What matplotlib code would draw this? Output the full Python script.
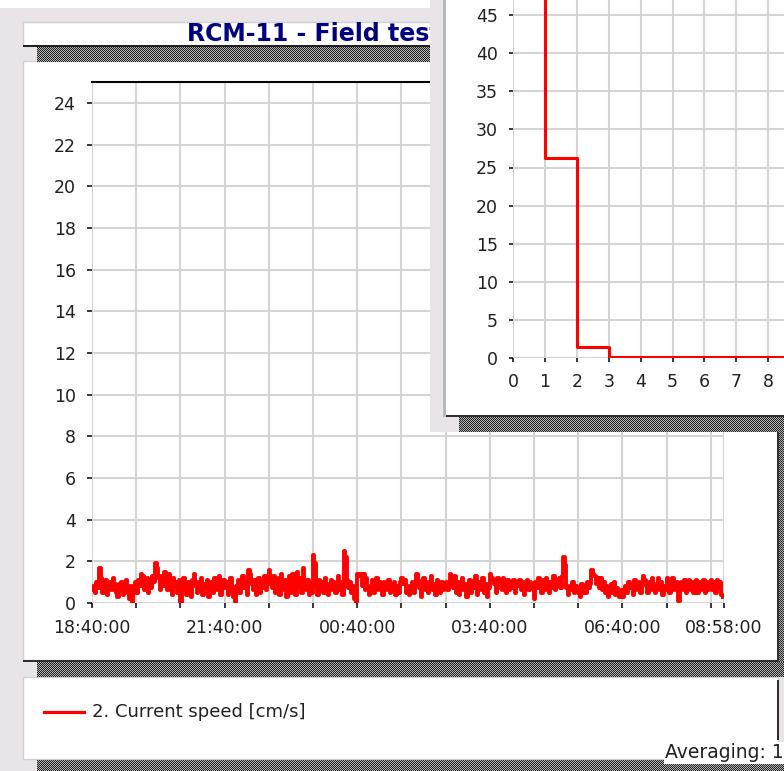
import numpy as np
import pandas as pd
import matplotlib
matplotlib.use("Agg")
import matplotlib.pyplot as plt
import matplotlib.dates as mdates
from matplotlib.patches import Rectangle
from matplotlib.lines import Line2D

plt.rcParams['font.family'] = ['DejaVu Sans']

W, H = 784, 771

# current speed [cm/s], one value every 2 minutes from 18:40 (one row = one hour)
speed = [
    0.6, 0.8, 0.5, 1.0, 0.7, 1.7, 1.2, 0.5, 0.9, 1.1, 0.4, 0.8, 1.0, 0.6, 1.2, 0.9, 0.5, 0.3, 0.9, 0.6, 1.0, 0.4, 0.7, 1.1, 0.5, 0.2, 0.8, 0.0, 0.6, 1.0,
    0.5, 1.1, 0.8, 1.4, 1.3, 0.6, 0.9, 1.2, 0.5, 1.1, 0.7, 1.3, 1.0, 1.9, 1.7, 1.2, 0.6, 1.3, 0.8, 1.5, 1.0, 0.6, 1.4, 0.9, 0.4, 1.2, 0.8, 1.0, 0.5, 1.1,
    0.0, 0.9, 1.2, 0.6, 0.4, 1.0, 0.7, 0.3, 1.1, 1.4, 0.8, 0.5, 1.0, 0.6, 1.2, 0.4, 0.9, 0.7, 1.1, 0.3, 0.8, 1.0, 0.5, 1.2, 0.6, 0.9, 1.3, 0.4, 0.8, 1.1,
    0.7, 1.0, 0.4, 0.9, 1.2, 0.6, 0.3, 0.0, 0.8, 1.1, 0.5, 0.9, 1.3, 0.7, 1.0, 0.4, 1.6, 1.4, 0.9, 0.6, 1.1, 0.4, 0.8, 1.2, 0.5, 1.0, 0.7, 1.3, 0.6, 0.9,
    1.6, 1.1, 0.7, 1.3, 0.5, 0.9, 1.2, 0.4, 1.4, 0.8, 0.6, 1.1, 0.3, 0.9, 1.3, 0.5, 1.4, 1.0, 0.4, 1.5, 0.7, 1.2, 0.5, 1.7, 1.0, 0.6, 1.1, 0.4, 0.9, 0.5,
    2.3, 1.9, 0.8, 0.4, 1.1, 0.6, 1.0, 0.5, 1.2, 0.7, 0.4, 0.9, 1.1, 0.6, 1.0, 0.5, 0.8, 1.3, 0.6, 1.0, 0.4, 2.5, 2.2, 1.1, 0.7, 1.0, 0.5, 0.8, 0.2, 0.0,
    1.4, 1.3, 1.4, 0.8, 1.4, 0.6, 1.2, 0.8, 0.4, 0.7, 1.1, 0.5, 0.9, 1.2, 0.6, 1.0, 0.7, 0.4, 1.0, 0.6, 0.8, 1.1, 0.5, 0.9, 0.6, 1.0, 0.4, 0.8, 0.5, 1.0,
    1.2, 0.9, 1.1, 0.5, 0.8, 0.4, 0.7, 1.0, 0.5, 0.9, 1.4, 1.1, 0.7, 0.3, 0.9, 1.2, 0.6, 1.0, 0.5, 0.8, 1.3, 0.6, 0.9, 0.4, 1.1, 0.7, 0.5, 1.0, 0.6, 0.8,
    1.0, 0.6, 0.9, 1.4, 1.2, 0.7, 1.3, 0.5, 1.0, 0.4, 0.8, 1.2, 0.6, 0.9, 0.3, 0.7, 1.1, 0.5, 1.0, 0.7, 1.3, 0.4, 0.8, 1.0, 0.6, 1.2, 0.5, 0.9, 0.3, 0.7,
    1.4, 1.2, 1.1, 0.9, 0.5, 1.2, 0.7, 1.1, 0.6, 1.2, 0.9, 0.5, 1.1, 0.6, 1.0, 0.7, 1.1, 0.5, 1.0, 0.8, 1.1, 0.6, 1.0, 0.4, 0.9, 1.1, 0.6, 1.0, 0.7, 0.9,
    0.2, 1.0, 0.7, 1.2, 0.8, 0.5, 1.1, 0.6, 1.2, 0.9, 0.5, 1.0, 0.7, 1.3, 0.6, 1.1, 0.8, 1.2, 0.7, 1.3, 2.2, 1.8, 0.7, 0.4, 0.8, 0.6, 1.0, 0.5, 0.8, 0.6,
    0.5, 0.3, 0.9, 0.5, 0.8, 0.5, 1.0, 0.7, 0.9, 1.6, 1.4, 1.3, 0.9, 1.2, 0.7, 1.2, 0.6, 1.0, 0.5, 0.8, 0.3, 0.6, 0.9, 0.5, 1.0, 0.4, 0.7, 0.5, 0.3, 0.6,
    0.3, 0.6, 0.8, 0.5, 1.0, 0.7, 0.9, 0.4, 1.1, 0.6, 0.8, 1.0, 0.5, 0.9, 1.3, 1.1, 0.8, 0.5, 1.0, 0.6, 1.2, 0.7, 0.5, 0.9, 1.2, 0.6, 1.0, 0.4, 0.8, 0.6,
    1.2, 0.8, 0.5, 1.0, 1.2, 0.6, 0.9, 1.0, 0.1, 0.7, 1.0, 0.6, 1.1, 0.5, 0.9, 1.1, 0.6, 1.0, 0.5, 0.8, 1.1, 0.5, 1.0, 0.6, 0.9, 1.1, 0.5, 1.0, 0.6, 0.9,
    1.1, 0.6, 1.0, 0.5, 1.1, 0.7, 1.0, 0.4, 0.3,
]
start_time = "2000-01-01 18:40"
end_time = "2000-01-02 08:58"
shown_labels = ["18:40:00", "21:40:00", "00:40:00", "03:40:00", "06:40:00", "08:58:00"]
y_ticks = list(range(0, 25, 2))

# distribution window: percent of samples per 1 cm/s class
hist_edges = [0, 1, 2, 3, 4, 5, 6, 7, 8, 9, 10, 11]
hist_pct = [72.3, 26.2, 1.4, 0.1, 0.1, 0.1, 0.1, 0.1, 0.1, 0.1, 0.1, 0.1]
hist_xlabels = ["0", "1", "2", "3", "4", "5", "6", "7", "8", "", ""]

title = "RCM-11 - Field test"
legend_label = "2. Current speed [cm/s]"

GRAY = '#e8e4e8'
GRID = '#d4d4d4'


def box(x, y, w, h, zorder, **kw):
    r = Rectangle((x / W, 1 - (y + h) / H), w / W, h / H,
                  transform=fig.transFigure, zorder=zorder, **kw)
    fig.add_artist(r)


def shadow(x, y, w, h, zorder):
    # dithered shadow like the old windows UI
    i, j = np.indices((h, w))
    arr = np.where(((i + j) % 2 == 0)[..., None], 0.12, 0.72) * np.ones((h, w, 3))
    fig.figimage(arr, xo=x, yo=H - y - h, origin='upper', zorder=zorder)


fig = plt.figure(figsize=(W / 100, H / 100), dpi=100)

# background and panels
box(0, 0, W, H, 0, facecolor=GRAY, lw=0)
box(0, 0, 430, 8, 0.1, facecolor='white', lw=0)
box(23, 22, 420, 24, 0.2, facecolor='white', edgecolor='#d0d0d0', lw=1)
box(23, 45, 420, 2, 0.3, facecolor='#202020', lw=0)
shadow(37, 47, 400, 15, 0.3)
box(23, 61, 755, 599, 0.2, facecolor='white', edgecolor='#d0d0d0', lw=1)
box(777, 61, 2, 601, 0.3, facecolor='#303030', lw=0)
box(23, 660, 756, 2, 0.3, facecolor='#303030', lw=0)
shadow(37, 662, 747, 15, 0.3)
shadow(779, 75, 5, 587, 0.3)
box(23, 677, 755, 82, 0.2, facecolor='white', edgecolor='#d0d0d0', lw=1)
box(777, 680, 2, 60, 0.3, facecolor='#303030', lw=0)
shadow(37, 760, 747, 11, 0.3)

fig.text(187 / W, 1 - 34 / H, title, fontweight='bold',
         fontsize=17, color='#000080', va='center', ha='left', zorder=1)

fig.add_artist(Line2D([44 / W, 84 / W], [1 - 712 / H] * 2, color='red', lw=2.3,
                      transform=fig.transFigure, zorder=3))
fig.text(92 / W, 1 - 712 / H, legend_label, fontsize=13, color='#202020',
         va='center', ha='left', zorder=3)
fig.text(665 / W, 1 - 753 / H, "Averaging: 1", fontsize=13.5, color='#202020',
         va='center', ha='left', zorder=3,
         bbox=dict(facecolor='white', edgecolor='none', pad=1))

# main time series
times = pd.date_range(start_time, periods=len(speed), freq="2min")
ax = fig.add_axes([92 / W, 1 - 603 / H, (724 - 92) / W, (603 - 82) / H], zorder=2)
ax.set_facecolor('none')
ax.step(times, speed, where='post', color='red', lw=2.8)
t0, t1 = pd.Timestamp(start_time), pd.Timestamp(end_time)
ax.set_xlim(t0, t1)
ax.set_ylim(0, 25)
hour_ticks = list(pd.date_range(t0, t1, freq="1h")) + [t1]
ax.set_xticks([mdates.date2num(t) for t in hour_ticks])
ax.set_xticklabels([t.strftime("%H:%M:%S") if t.strftime("%H:%M:%S") in shown_labels else ""
                    for t in hour_ticks])
ax.set_yticks(y_ticks)
ax.grid(color=GRID, lw=1.5)
ax.set_axisbelow(True)
for s in ['left', 'right', 'bottom']:
    ax.spines[s].set_visible(False)
ax.spines['top'].set_linewidth(1.5)
ax.tick_params(direction='out', length=3.5, width=1.1, labelsize=12.5,
               labelcolor='#202020', pad=8)

# distribution window on top
box(430, 0, 354, 432, 5, facecolor=GRAY, lw=0)
box(443, 0, 3, 417, 5.1, facecolor='#b8b8b8', lw=0)
box(446, 0, 338, 415, 5.1, facecolor='white', lw=0)
box(446, 415, 338, 2, 5.2, facecolor='#303030', lw=0)
shadow(459, 417, 325, 15, 5.2)

ax2 = fig.add_axes([513 / W, 1 - 358 / H, 319 / W, 381 / H], zorder=6)
ax2.set_facecolor('none')
ax2.step(hist_edges, hist_pct, where='post', color='red', lw=2.2)
ax2.set_xlim(0, 10)
ax2.set_ylim(0, 50)
ax2.set_xticks(range(0, 11))
ax2.set_xticklabels(hist_xlabels)
ax2.set_yticks(range(0, 50, 5))
ax2.yaxis.set_minor_locator(matplotlib.ticker.FixedLocator([50]))
ax2.grid(color=GRID, lw=1.5)
ax2.grid(which='minor', color=GRID, lw=1.5)
ax2.set_axisbelow(True)
for s in ax2.spines.values():
    s.set_visible(False)
ax2.tick_params(direction='out', length=3, width=1.1, labelsize=12.5,
                labelcolor='#202020', pad=8)
ax2.tick_params(which='minor', length=0)

fig.savefig("out.png", dpi=100)
